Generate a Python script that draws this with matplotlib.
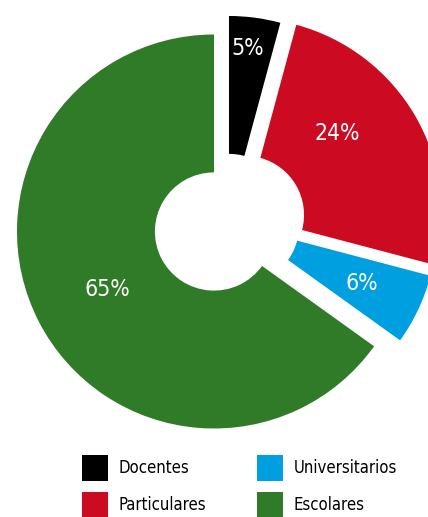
import matplotlib
matplotlib.use("Agg")
import matplotlib.pyplot as plt
import numpy as np

names = ["Docentes", "Particulares", "Universitarios", "Escolares"]
shares = [4.2, 24.9, 5.8, 65.1]
pct_labels = ["5%", "24%", "6%", "65%"]
colors = ["#000000", "#cc0a21", "#009fe0", "#2f7b27"]

# how far each slice is pulled out (x, y in radius units)
shifts = [(0.076, 0.094), (0.157, 0.084), (0.132, 0.030), (0.0, 0.0)]
lab_dist = [0.84, 0.625, 0.685, 0.617]
lab_turn = [1.0, 11.6, 0.0, 1.5]

plt.rcParams['font.family'] = ['DejaVu Sans']
plt.rcParams['font.stretch'] = 'condensed'

W, H = 428, 517
R = 197.0
cx, cy = 214.0, 231.5

fig = plt.figure(figsize=(W / 100, H / 100), dpi=100)
ax = fig.add_axes([0, 0, 1, 1])

wedges, _ = ax.pie(shares, colors=colors, startangle=90, counterclock=False,
                   radius=1.0, wedgeprops=dict(width=0.70, linewidth=0))

for w, (dx, dy), d, turn, txt in zip(wedges, shifts, lab_dist, lab_turn, pct_labels):
    w.set_center((dx, dy))
    a = np.deg2rad((w.theta1 + w.theta2) / 2 + turn)
    ax.text(dx + d * np.cos(a), dy + d * np.sin(a), txt, color="white",
            fontsize=16.5, ha="center", va="center", fontstretch='condensed')

ax.set_xlim(-cx / R, (W - cx) / R)
ax.set_ylim(-(H - cy) / R, cy / R)
ax.set_aspect('auto')
ax.axis('off')

fig.legend(wedges, names, ncol=2, loc="upper left",
           bbox_to_anchor=(82 / W, 1 - 455 / H), frameon=False,
           prop=dict(size=12, stretch='condensed'),
           handlelength=1.56, handleheight=2.02,
           handletextpad=0.6, labelspacing=0.66, columnspacing=3.1,
           borderpad=0, borderaxespad=0)

fig.savefig("out.png", dpi=100)
